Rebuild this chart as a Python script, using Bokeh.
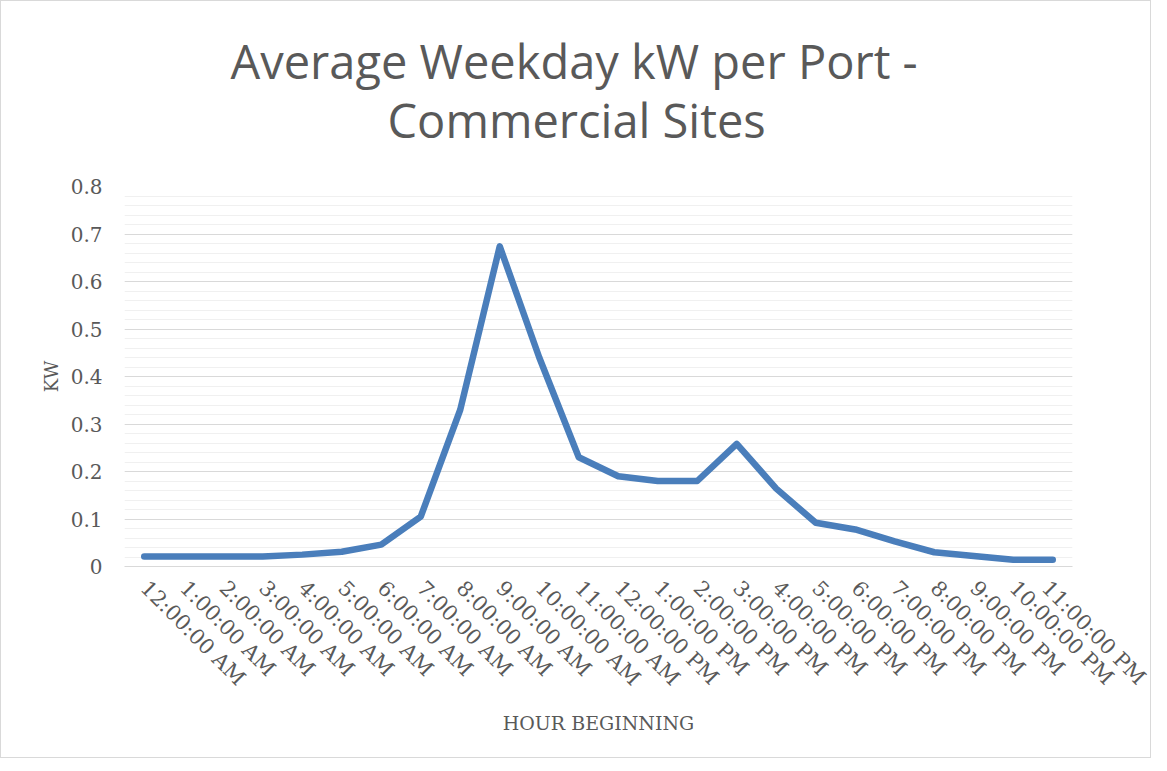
import math
from bokeh.plotting import figure
from bokeh.models import FactorRange, Range1d, FixedTicker, Title
from bokeh.embed import file_html
from bokeh.resources import INLINE

hours = ["12:00:00 AM", "1:00:00 AM", "2:00:00 AM", "3:00:00 AM", "4:00:00 AM",
         "5:00:00 AM", "6:00:00 AM", "7:00:00 AM", "8:00:00 AM", "9:00:00 AM",
         "10:00:00 AM", "11:00:00 AM", "12:00:00 PM", "1:00:00 PM", "2:00:00 PM",
         "3:00:00 PM", "4:00:00 PM", "5:00:00 PM", "6:00:00 PM", "7:00:00 PM",
         "8:00:00 PM", "9:00:00 PM", "10:00:00 PM", "11:00:00 PM"]
kw = [0.021, 0.021, 0.021, 0.021, 0.025, 0.031, 0.046, 0.105, 0.33, 0.674,
      0.44, 0.23, 0.19, 0.18, 0.18, 0.258, 0.164, 0.092, 0.078, 0.053,
      0.03, 0.022, 0.014, 0.014]
y_ticks = [0, 0.1, 0.2, 0.3, 0.4, 0.5, 0.6, 0.7, 0.8]
y_labels = {0: "0", 0.1: "0.1", 0.2: "0.2", 0.3: "0.3", 0.4: "0.4",
            0.5: "0.5", 0.6: "0.6", 0.7: "0.7", 0.8: "0.8"}
title_lines = ["Average Weekday kW per Port -", "Commercial Sites"]

TEXT = "#595959"
SERIF = "DejaVu Serif"

p = figure(width=1151, height=758, x_range=FactorRange(*hours, range_padding=0),
           y_range=Range1d(0, 0.8), output_backend="svg", toolbar_location=None,
           title=None,
           min_border_left=123, min_border_right=80, min_border_top=185, min_border_bottom=193)
p.styles = {"border": "1px solid #d9d9d9"}
p.outline_line_color = None
p.x_range.factor_padding = 0

# second line first (closest to the frame), then the first line above it
p.add_layout(Title(text=title_lines[1], align="left", offset=263, standoff=70,
                   text_font="Open Sans", text_font_style="normal",
                   text_font_size="47px", text_color=TEXT), "above")
p.add_layout(Title(text=title_lines[0], align="left", offset=106, standoff=-84,
                   text_font="Open Sans", text_font_style="normal",
                   text_font_size="47px", text_color=TEXT), "above")

p.line(x=hours, y=kw, line_color="#4a7ebb", line_width=6.5, line_join="round", line_cap="round")

p.yaxis.ticker = FixedTicker(ticks=y_ticks, minor_ticks=[i * 0.02 for i in range(41)])
p.yaxis.major_label_overrides = y_labels
p.yaxis.axis_line_color = None
p.yaxis.major_tick_line_color = None
p.yaxis.minor_tick_line_color = None
p.yaxis.major_label_text_font = SERIF
p.yaxis.major_label_text_font_size = "20px"
p.yaxis.major_label_text_color = TEXT
p.yaxis.major_label_standoff = 16
p.yaxis.axis_label = "KW"
p.yaxis.axis_label_text_font = SERIF
p.yaxis.axis_label_text_font_style = "normal"
p.yaxis.axis_label_text_font_size = "18px"
p.yaxis.axis_label_text_color = TEXT
p.yaxis.axis_label_standoff = 6

p.xaxis.axis_line_color = "#d9d9d9"
p.xaxis.major_tick_line_color = None
p.xaxis.minor_tick_line_color = None
p.xaxis.major_label_orientation = -math.pi / 4
p.xaxis.major_label_text_font = SERIF
p.xaxis.major_label_text_font_size = "21px"
p.xaxis.major_label_text_color = TEXT
p.xaxis.major_label_standoff = 12
p.xaxis.axis_label = "HOUR BEGINNING"
p.xaxis.axis_label_text_font = SERIF
p.xaxis.axis_label_text_font_style = "normal"
p.xaxis.axis_label_text_font_size = "19px"
p.xaxis.axis_label_text_color = TEXT
p.xaxis.axis_label_standoff = 10

p.xgrid.grid_line_color = None
p.ygrid.grid_line_color = "#d9d9d9"
p.ygrid.grid_line_width = 1
p.ygrid.minor_grid_line_color = "#f0f0f0"

open("out.html", "w").write(file_html(p, INLINE))
